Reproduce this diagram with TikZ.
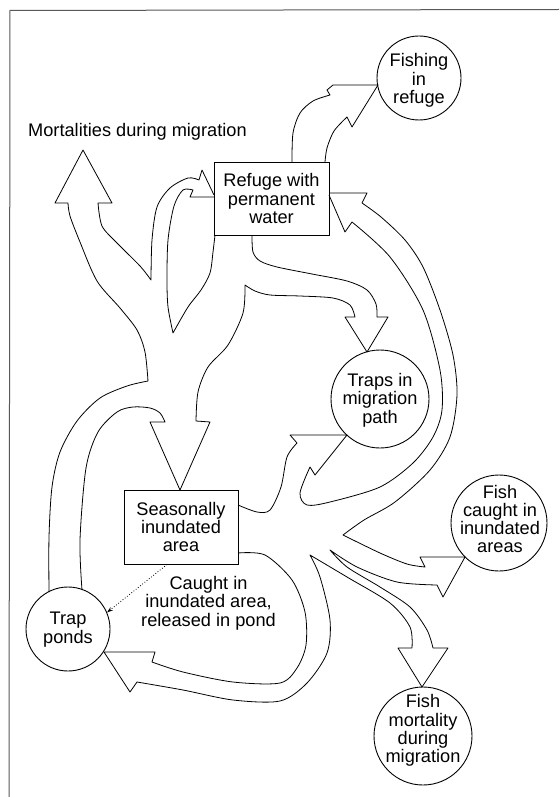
\documentclass[tikz,border=0pt]{standalone}
\usepackage{fontspec}
\setmainfont{Liberation Sans}
\usetikzlibrary{arrows.meta}
\begin{document}
\begin{tikzpicture}[x=1pt,y=-1pt,
 txt/.style={font=\fontsize{18.2}{18.3}\selectfont, align=center, inner sep=0pt, text=black},
 flow/.style={line width=0.8pt, line join=round},
 boxnode/.style={draw, line width=0.9pt, txt, minimum width=115pt, minimum height=73pt},
 ring/.style={draw, circle, line width=0.9pt, inner sep=0pt, minimum size=#1}]
\useasboundingbox (0,0) rectangle (559,797);
\fill[white] (0,0) rectangle (559,797);
\draw[black!65, line width=1pt] (9,797) -- (10,10.5) -- (559,9.5);

% nodes
\node[boxnode] (refuge) at (271.5,198.5) {Refuge with\\permanent\\water};
\node[boxnode, minimum width=114pt, minimum height=74pt] (season) at (181,527) {Seasonally\\inundated\\area};
\node[ring=84pt] (fishing) at (419,78) {};
\node[txt] (fishingT) at (419,80.5) {Fishing\\in\\refuge};
\node[ring=98pt] (traps) at (380,399) {};
\node[txt] (trapsT) at (380,400) {Traps in\\migration\\path};
\node[ring=84pt] (ponds) at (68,629) {};
\node[txt] (pondsT) at (68,629.5) {Trap\\ponds};
\node[ring=96pt] (caught) at (499,523) {};
\node[txt] (caughtT) at (500,519) {Fish\\caught in\\inundated\\areas};
\node[ring=98pt] (mort) at (423,736) {};
\node[txt] (mortT) at (423,730.5) {Fish\\mortality\\during\\migration};
\node[txt, anchor=base west] (mortal) at (28,136) {Mortalities during migration};
\node[txt] (release) at (208.5,603) {Caught in\\inundated area,\\released in pond};

\draw[dotted, line width=0.8pt, -{Stealth[length=6pt,width=4pt]}] ([xshift=-14pt]season.south) -- (ponds.23);

% left complex: left stream outer, mortalities arrow, refuge-in outer
\draw[flow] plot[smooth] coordinates {(49,592) (49,537) (52,487) (60,452) (77,421) (100,398) (127,386) (148,381)}
 -- plot[smooth] coordinates {(148,381) (145,352) (137,330) (120,308) (97,281) (80,242) (70,216) (68,203)}
 -- (55,203) -- (83,150) -- (112,203) -- (98,203)
 -- plot[smooth] coordinates {(98,203) (102,226) (117,243) (140,266) (151,280)}
 -- plot[smooth] coordinates {(151,280) (152,240) (157,207) (170,188) (188,178) (199,180)}
 -- (202,170) -- (214,195);

% refuge-in inner edge and refuge-out left edge
\draw[flow] (214,197) -- (190,197) -- (193,190)
 -- plot[smooth] coordinates {(193,190) (183,190) (174,206) (168,240) (167,280) (168,307) (173,333)}
 -- plot[smooth] coordinates {(173,333) (188,307) (201,290) (210,273) (213,252) (215,235)};

% stream to traps, down arrow to seasonal area, left stream inner
\draw[flow] plot[smooth] coordinates {(252,235) (253,252) (260,261) (277,267) (312,274) (347,281) (367,290) (376,304) (377,317)}
 -- (388,317) -- (367,352) -- (345,317) -- (355,317)
 -- plot[smooth] coordinates {(355,317) (350,305) (333,298) (300,296) (270,295) (255,291) (245,285)}
 -- plot[smooth] coordinates {(245,285) (243,313) (228,345) (208,367) (198,392) (196,421)}
 -- (210,422) -- (180,490) -- (150,422) -- (165,422)
 -- plot[smooth] coordinates {(165,422) (160,413) (150,408) (133,407) (117,412) (98,432) (86,468) (80,540) (82,590)};

% fishing in refuge
\draw[flow] plot[smooth] coordinates {(292,162) (293,133) (300,113) (313,101) (330,95)}
 -- (327,90) -- (333,85) -- (378,85) -- (352,127) -- (347,117)
 -- plot[smooth] coordinates {(347,117) (334,131) (327,148) (325,162)};

% big arc outer, fish caught, mortality, loop to trap ponds
\draw[flow] (329,193) -- (367,193) -- (362,203)
 -- plot[smooth] coordinates {(362,203) (381,217) (405,240) (423,267) (440,310) (453,355) (457,395) (450,437) (430,470) (395,502) (364,520) (343,535)}
 -- plot[smooth] coordinates {(343,535) (380,553) (407,564) (425,567)}
 -- (420,557) -- (465,557) -- (443,597) -- (437,585)
 -- plot[smooth] coordinates {(437,585) (397,582) (357,567) (330,550)}
 -- plot[smooth] coordinates {(330,550) (347,567) (380,587) (410,607) (427,630) (433,648)}
 -- (448,648) -- (422,687) -- (398,648) -- (412,648)
 -- plot[smooth] coordinates {(412,648) (410,627) (390,603) (347,577) (310,555)}
 -- plot[smooth] coordinates {(310,555) (320,577) (330,620) (327,653) (307,683) (280,701) (233,700) (183,690) (137,682)}
 -- (130,692) -- (104,652) -- (155,652) -- (152,662)
 -- plot[smooth] coordinates {(152,662) (183,672) (233,682) (280,683) (297,668) (306,645) (305,612) (292,580) (265,555) (238,553)};

% big arc inner and arrow into traps
\draw[flow] (329,195) -- (345,232) -- (352,222)
 -- plot[smooth] coordinates {(352,222) (390,257) (423,310) (440,370) (442,410) (433,437) (413,463) (380,487) (330,502) (307,505) (300,493) (310,467)}
 -- (315,475) -- (347,435) -- (290,435) -- (297,443)
 -- plot[smooth] coordinates {(297,443) (287,457) (281,487) (270,510) (257,512) (238,505)};
\end{tikzpicture}
\end{document}
